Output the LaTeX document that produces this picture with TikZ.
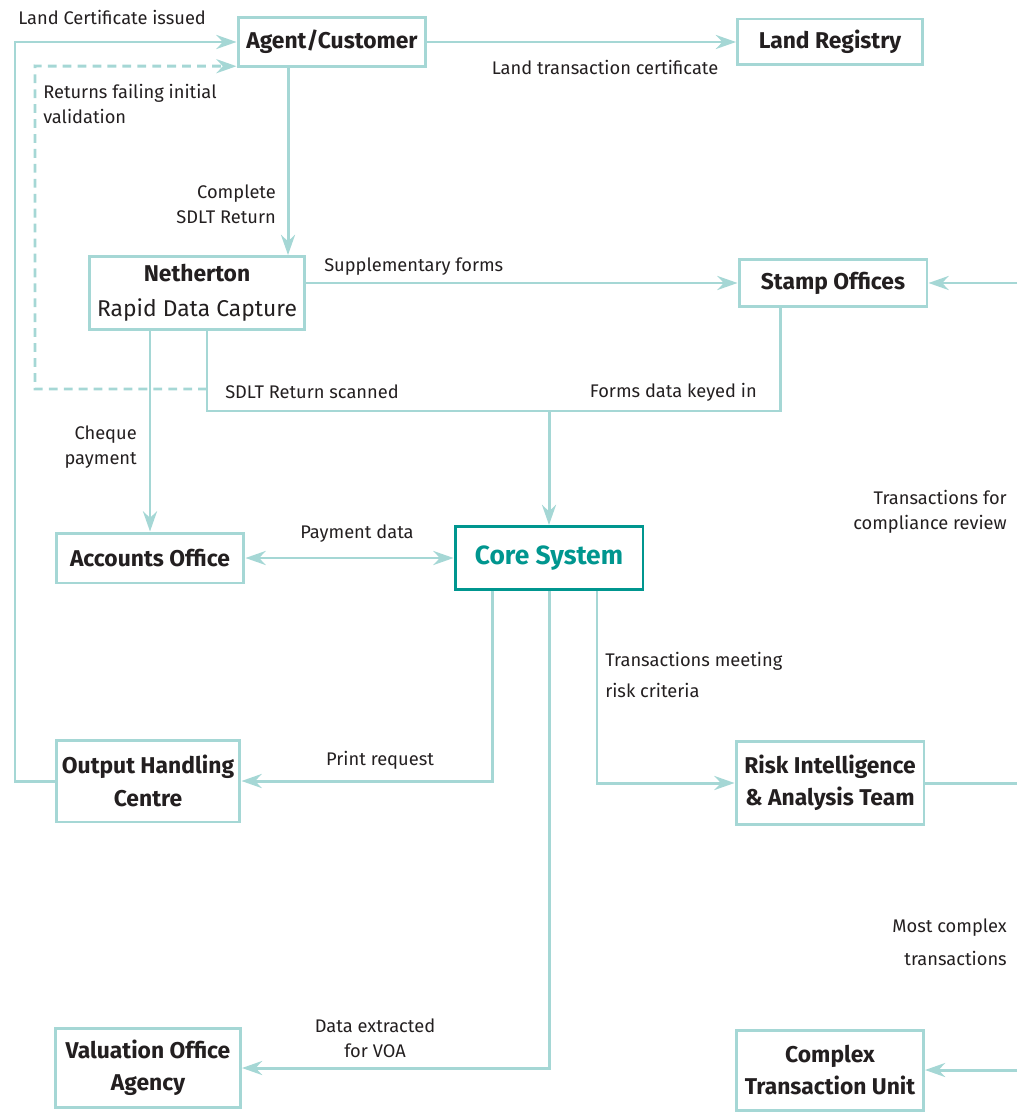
\documentclass[tikz,border=0pt]{standalone}
\usepackage{fontspec}
\setmainfont{Fira Sans}
\usepackage{tikz}
\usetikzlibrary{arrows.meta}

\definecolor{flowline}{HTML}{A5D7D5}
\definecolor{coreteal}{HTML}{00968F}
\definecolor{inktext}{HTML}{231F20}

\tikzset{
    unit/.style={draw=flowline, line width=1.7pt, fill=white, text=inktext,
        font=\fontsize{13}{18.5}\selectfont\bfseries, align=center,
        minimum width=3.76cm, inner sep=2pt},
    core/.style={unit, draw=coreteal, text=coreteal,
        font=\fontsize{15}{18}\selectfont\bfseries},
    flow/.style={draw=flowline, line width=1.7pt},
    reject/.style={flow, dash pattern=on 5pt off 3.5pt},
    lbl/.style={text=inktext, font=\fontsize{10.4}{14.2}\selectfont, inner sep=1pt}
}

\begin{document}
\begin{tikzpicture}[x=0.02cm, y=-0.02cm, >={Stealth[length=11.5pt, width=8pt]}]

    \useasboundingbox (0,0) rectangle (1017,1114);

    % units
    \node[unit, minimum height=0.98cm] (agent) at (332,42) {Agent/Customer};
    \node[unit, minimum width=3.7cm, minimum height=0.92cm] (registry) at (830,42) {Land Registry};
    \node[unit, minimum width=4.3cm, minimum height=1.46cm,
        font=\fontsize{13}{20}\selectfont\bfseries] (netherton) at (197,293)
        {Netherton\\{\mdseries Rapid Data Capture}};
    \node[unit, minimum height=0.94cm] (stamp) at (833,283) {Stamp Offices};
    \node[unit, minimum height=1.0cm] (accounts) at (150,558) {Accounts Office};
    \node[core, minimum height=1.26cm] (core) at (549,558) {Core System};
    \node[unit, minimum width=3.68cm, minimum height=1.64cm] (output) at (148,781)
        {Output Handling\\Centre};
    \node[unit, minimum height=1.66cm] (risk) at (830,783)
        {Risk Intelligence\\\& Analysis Team};
    \node[unit, minimum width=3.7cm, minimum height=1.58cm] (voa) at (148,1068)
        {Valuation Office\\Agency};
    \node[unit, minimum width=3.74cm, minimum height=1.6cm] (ctu) at (830,1070)
        {Complex\\Transaction Unit};

    % turning points and free ends
    \coordinate (scanout) at (207,330);
    \coordinate (rejected) at (207,389);
    \coordinate (keyin) at (780,307);
    \coordinate (bus) at (549,411);
    \coordinate (dashin) at ([yshift=1pt]agent.south west);
    \coordinate (compliance) at (1017,283);
    \coordinate (riskout) at (1017,783);
    \coordinate (complex) at (1017,1070);

    \draw[flow,->] (output.west) -- (15,781) |- (agent.west)
        node[lbl, anchor=west] at (15,17) {Land Certificate issued};
    \draw[reject,->] (rejected) -| (35,66) -- (dashin)
        node[lbl, anchor=west, align=left] at (40,104) {Returns failing initial\\validation};
    \draw[flow,->] (agent.east) -- (registry.west)
        node[lbl] at (605,67) {Land transaction certificate};
    \draw[flow,->] ([xshift=-0.88cm]agent.south) -- ([xshift=-0.88cm]agent.south |- netherton.north)
        node[lbl, anchor=east, align=right] at (279,204) {Complete\\SDLT Return};
    \draw[flow,->] (netherton.east |- stamp.west) -- (stamp.west)
        node[lbl, anchor=west] at (321,267) {Supplementary forms};
    \draw[flow] (scanout) |- (bus -| keyin) -- (keyin)
        node[lbl, anchor=west] at (222,392) {SDLT Return scanned}
        node[lbl, anchor=east] at (760,392) {Forms data keyed in};
    \draw[flow,->] (bus) -- (core.north);
    \draw[flow,->] (netherton.south -| accounts.north) -- (accounts.north)
        node[lbl, anchor=east, align=right] at (140,447) {Cheque\\payment};
    \draw[flow,<->] (accounts.east) -- (core.west)
        node[lbl] at (357,534) {Payment data};
    \draw[flow,->] ([xshift=-1.14cm]core.south) |- (output.east)
        node[lbl] at (380,760) {Print request};
    \draw[flow,->] ([xshift=0.96cm]core.south) |- (risk.west)
        node[lbl, anchor=west, align=left, font=\fontsize{10.4}{17.5}\selectfont] at (602,675)
        {Transactions meeting\\risk criteria};
    \draw[flow,->] (core.south) |- (voa.east)
        node[lbl, align=center] at (375,1038) {Data extracted\\for VOA};

    % off-page links on the right
    \draw[flow,->] (compliance) -- (stamp.east)
        node[lbl, anchor=east, align=right] at (1010,512) {Transactions for\\compliance review};
    \draw[flow] (risk.east) -- (riskout);
    \draw[flow,->] (complex) -- (ctu.east)
        node[lbl, anchor=east, align=right, font=\fontsize{10.4}{19}\selectfont] at (1010,942)
        {Most complex\\transactions};

\end{tikzpicture}
\end{document}
